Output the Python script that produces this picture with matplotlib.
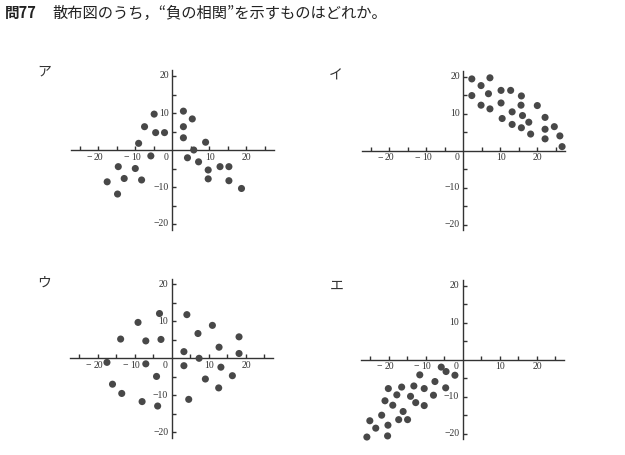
import matplotlib
matplotlib.use("Agg")
import matplotlib.pyplot as plt

# ---- data ----
panel_labels = ["ア", "イ", "ウ", "エ"]
title_num = "問77"
title_text = "散布図のうち，“負の相関”を示すものはどれか。"

a_x = [-4.9, 3.0, 5.4, -7.5, 3.0, -4.5, -2.1, 3.0, -9.1, 9.0, 5.8, -5.8, 4.1, 7.1,
       -14.6, -10.0, 12.9, 15.3, 9.7, -13.0, -8.3, -17.6, 9.7, 15.3, 18.7, -14.8]
a_y = [9.7, 10.5, 8.4, 6.3, 6.3, 4.7, 4.7, 3.3, 1.8, 2.1, 0.0, -1.6, -2.1, -3.2,
       -4.5, -5.0, -4.5, -4.5, -5.4, -7.7, -8.1, -8.6, -7.8, -8.3, -10.4, -11.9]

i_x = [2.3, 7.2, 4.8, 10.2, 12.8, 6.8, 15.7, 2.3, 10.2, 4.8, 15.6, 20.0, 7.2,
       13.2, 16.0, 10.5, 22.1, 17.7, 13.2, 24.6, 15.7, 22.1, 18.2, 26.1, 22.1, 26.7]
i_y = [19.4, 19.7, 17.6, 16.3, 16.3, 15.4, 14.8, 14.9, 12.9, 12.3, 12.3, 12.2, 11.3,
       10.5, 9.5, 8.7, 9.0, 7.7, 7.1, 6.5, 6.2, 5.8, 4.5, 4.0, 3.2, 1.1]

u_x = [-3.3, 4.1, -9.1, 11.0, 7.1, 18.2, -13.8, -7.0, -2.9, 12.8, 3.3, 18.2, 7.4,
       -17.5, -7.0, 3.3, 13.3, -4.1, 9.1, 16.4, -16.0, 12.7, -13.5, -8.0, 4.6, -3.8]
u_y = [12.1, 11.8, 9.7, 8.9, 6.7, 5.8, 5.2, 4.7, 5.1, 3.0, 1.8, 1.3, 0.0,
       -1.1, -1.5, -2.0, -2.4, -4.9, -5.6, -4.7, -7.0, -8.0, -9.5, -11.7, -11.1, -12.9]

e_x = [-5.8, -4.5, -11.6, -2.1, -7.5, -13.2, -16.5, -20.1, -10.4, -4.6, -17.8, -7.9,
       -14.1, -21.0, -12.7, -18.9, -10.4, -16.1, -21.9, -17.3, -14.9, -25.1, -20.2,
       -23.5, -20.3, -25.9]
e_y = [-2.0, -3.2, -4.1, -4.2, -5.9, -7.1, -7.4, -7.8, -7.8, -7.6, -9.5, -9.6,
       -9.9, -11.1, -11.6, -12.3, -12.4, -14.0, -15.0, -16.2, -16.2, -16.5, -17.7,
       -18.5, -20.6, -20.9]

x_ticks = [-25, -20, -15, -10, -5, 5, 10, 15, 20, 25]
y_ticks = [-20, -15, -10, -5, 5, 10, 15, 20]
labeled_ticks = [-20, -10, 10, 20]

panels = [(a_x, a_y), (i_x, i_y), (u_x, u_y), (e_x, e_y)]

# ---- layout (pixels) ----
W, H = 625, 455
origins = [(172.3, 150.0), (463.3, 150.7), (171.7, 358.3), (462.7, 359.7)]
label_pos = [(44, 72), (336, 76), (44, 283), (337, 286)]
scale = 3.7
XL, YL = 28, 23
PT = 72 / 100  # points per pixel
FS = 7
INK = "#333333"

fig = plt.figure(figsize=(W / 100, H / 100), dpi=100)
fig.patch.set_facecolor("white")

serif = ["Liberation Serif", "DejaVu Serif"]
cjk = ["Noto Sans CJK JP", "DejaVu Sans"]

fig.text(5 / W, 1 - 13 / H, title_num, family=cjk, fontsize=10.5, fontweight="bold",
         va="center", ha="left", color="#222222")
fig.text(52 / W, 1 - 13 / H, title_text, family=cjk, fontsize=11,
         va="center", ha="left", color="#222222")

for (xs, ys), (ox, oy), lab, lp in zip(panels, origins, panel_labels, label_pos):
    wpx = 2 * XL * scale
    hpx = 2 * YL * scale
    left = ox - XL * scale
    top = oy - YL * scale
    ax = fig.add_axes([left / W, 1 - (top + hpx) / H, wpx / W, hpx / H])
    ax.set_xlim(-XL, XL)
    ax.set_ylim(-YL, YL)
    ax.patch.set_alpha(0)
    for s in ["top", "right"]:
        ax.spines[s].set_visible(False)
    ax.spines["left"].set_position(("data", 0))
    ax.spines["bottom"].set_position(("data", 0))
    ax.spines["bottom"].set_bounds(-27.5, 27.5)
    ax.spines["left"].set_bounds(-21.5, 21.5)
    for s in ["left", "bottom"]:
        ax.spines[s].set_linewidth(1.0)
        ax.spines[s].set_color(INK)

    ax.set_xticks(x_ticks)
    ax.set_xticklabels([])
    ax.set_yticks(y_ticks)
    ax.set_yticklabels([])
    ax.tick_params(axis="both", direction="in", length=3, width=1.0, color=INK)

    # x tick labels: digits centred on tick, minus hanging to the left
    for t in labeled_ticks:
        digits = str(abs(t))
        ax.annotate(digits, (t, 0), xytext=(0.3, -7.3 * PT), textcoords="offset points",
                    ha="center", va="center", family=serif, fontsize=FS, color=INK)
        if t < 0:
            ax.annotate("−", (t, 0), xytext=(-6.5 * PT, -7.3 * PT),
                        textcoords="offset points", ha="right", va="center",
                        family=serif, fontsize=FS, color=INK)
    # y tick labels
    for t in labeled_ticks:
        txt = ("−" + str(-t)) if t < 0 else str(t)
        ax.annotate(txt, (0, t), xytext=(-3.5 * PT, 0), textcoords="offset points",
                    ha="right", va="center", family=serif, fontsize=FS, color=INK)
    ax.annotate("0", (0, 0), xytext=(-6.3 * PT, -7.3 * PT), textcoords="offset points",
                ha="center", va="center", family=serif, fontsize=FS, color=INK)

    ax.scatter(xs, ys, s=26, color="#484848", edgecolors="none", zorder=3, clip_on=False)

    fig.text(lp[0] / W, 1 - lp[1] / H, lab, family=cjk, fontsize=10, ha="center",
             va="center", color=INK)

fig.savefig("out.png", dpi=100, facecolor="white")
